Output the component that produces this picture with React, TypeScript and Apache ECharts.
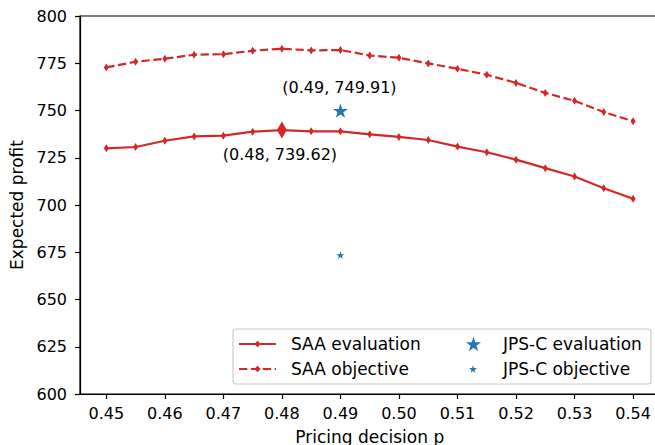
import React, { useEffect, useRef } from "react";
import * as echarts from "echarts";

// Pricing decisions evaluated by the SAA approach
const prices = [
  0.45, 0.455, 0.46, 0.465, 0.47, 0.475, 0.48, 0.485, 0.49, 0.495, 0.5,
  0.505, 0.51, 0.515, 0.52, 0.525, 0.53, 0.535, 0.54,
];
// Out-of-sample expected profit of each SAA pricing decision
const saaEvaluation = [
  730.0, 730.7, 734.0, 736.3, 736.7, 738.8, 739.62, 739.0, 739.0, 737.4,
  736.0, 734.4, 730.9, 727.9, 724.0, 719.5, 715.1, 708.9, 703.3,
];
// In-sample SAA objective value of each pricing decision
const saaObjective = [
  772.8, 775.8, 777.4, 779.5, 779.8, 781.6, 782.7, 781.8, 782.0, 779.1,
  777.9, 774.9, 772.1, 768.9, 764.6, 759.3, 755.1, 749.2, 744.3,
];
// JPS-C solution
const jpsPrice = [0.49];
const jpsEvaluation = [749.91];
const jpsObjective = [673.5];

const xTicks = [0.45, 0.46, 0.47, 0.48, 0.49, 0.5, 0.51, 0.52, 0.53, 0.54];
const yTicks = [600, 625, 650, 675, 700, 725, 750, 775, 800];

const RED = "#d62728";
const BLUE = "#1f77b4";
const FONT = "DejaVu Sans";

// Five-pointed star symbol, point up
function starSymbol(inner = 0.381966): string {
  const pts: string[] = [];
  for (let i = 0; i < 10; i++) {
    const r = i % 2 === 0 ? 1 : inner;
    const a = -Math.PI / 2 + (i * Math.PI) / 5;
    pts.push(`${(r * Math.cos(a)).toFixed(4)},${(r * Math.sin(a)).toFixed(4)}`);
  }
  return "path://M" + pts.join("L") + "Z";
}

const pointLabel = (p: number, v: number) => `(${p.toFixed(2)}, ${v.toFixed(2)})`;

export default function App() {
  const ref = useRef<HTMLDivElement>(null);

  useEffect(() => {
    if (!ref.current) return;
    const chart = echarts.init(ref.current, undefined, { renderer: "svg" });

    const star = starSymbol();
    let best = 0;
    saaEvaluation.forEach((v, i) => {
      if (v > saaEvaluation[best]) best = i;
    });

    const legendText = {
      fontSize: 17,
      color: "#000",
      fontFamily: FONT,
      lineHeight: 18,
    };

    const baseLegend = { padding: 0, selectedMode: false, z: 4 };

    chart.setOption({
      animation: false,
      textStyle: { fontFamily: FONT },
      grid: {
        left: 80,
        top: 16,
        width: 579.4,
        height: 378,
        outerBoundsMode: "none",
        containLabel: false,
        show: true,
        borderColor: "#000",
        borderWidth: 1.2,
        backgroundColor: "transparent",
      },
      xAxis: {
        type: "value",
        min: 0.4455,
        max: 0.5445,
        name: "Pricing decision p",
        nameLocation: "middle",
        nameGap: 34,
        nameTextStyle: { fontSize: 17, color: "#000", fontFamily: FONT },
        axisLine: { show: true, onZero: false, lineStyle: { color: "#000", width: 1.2 } },
        axisTick: {
          show: true,
          customValues: xTicks,
          length: 5,
          lineStyle: { color: "#000", width: 1.2 },
        },
        axisLabel: {
          customValues: xTicks,
          formatter: (v: number) => v.toFixed(2),
          fontSize: 16,
          color: "#000",
          margin: 11,
          fontFamily: FONT,
        },
        splitLine: { show: false },
      },
      yAxis: {
        type: "value",
        min: yTicks[0],
        max: yTicks[yTicks.length - 1],
        interval: yTicks[1] - yTicks[0],
        name: "Expected profit",
        nameLocation: "middle",
        nameGap: 53,
        nameTextStyle: { fontSize: 17, color: "#000", fontFamily: FONT },
        axisLine: { show: true, onZero: false, lineStyle: { color: "#000", width: 1.2 } },
        axisTick: { show: true, length: 5, lineStyle: { color: "#000", width: 1.2 } },
        axisLabel: { fontSize: 16, color: "#000", margin: 13, fontFamily: FONT },
        splitLine: { show: false },
      },
      legend: [
        {
          ...baseLegend,
          data: ["SAA evaluation"],
          left: 238,
          top: 335,
          itemWidth: 37,
          itemHeight: 8,
          textStyle: { ...legendText, padding: [0, 0, 0, 10] },
        },
        {
          ...baseLegend,
          data: ["SAA objective"],
          left: 238,
          top: 360,
          itemWidth: 37,
          itemHeight: 8,
          textStyle: { ...legendText, padding: [0, 0, 0, 10] },
        },
        {
          ...baseLegend,
          data: [{ name: "JPS-C evaluation", icon: star }],
          left: 466,
          top: 335,
          itemWidth: 15,
          itemHeight: 15,
          textStyle: { ...legendText, padding: [0, 0, 0, 17] },
        },
        {
          ...baseLegend,
          data: [{ name: "JPS-C objective", icon: star }],
          left: 469,
          top: 360,
          itemWidth: 8,
          itemHeight: 8,
          textStyle: { ...legendText, padding: [0, 0, 0, 21] },
        },
      ],
      graphic: [
        {
          type: "rect",
          z: 3,
          shape: { x: 233, y: 329, width: 418, height: 55, r: 3 },
          style: { fill: "rgba(255,255,255,0.8)", stroke: "#cccccc", lineWidth: 1.2 },
        },
      ],
      series: [
        {
          name: "SAA evaluation",
          type: "line",
          data: prices.map((p, i) => [p, saaEvaluation[i]]),
          symbol: "diamond",
          symbolSize: [5, 8],
          showAllSymbol: true,
          lineStyle: { color: RED, width: 2.2 },
          itemStyle: { color: RED },
          emphasis: { disabled: true },
          z: 2,
        },
        {
          name: "SAA objective",
          type: "line",
          data: prices.map((p, i) => [p, saaObjective[i]]),
          symbol: "diamond",
          symbolSize: [5, 8],
          showAllSymbol: true,
          lineStyle: { color: RED, width: 2.2, type: [8.3, 3.6] },
          itemStyle: { color: RED },
          emphasis: { disabled: true },
          z: 2,
        },
        {
          name: "SAA best",
          type: "scatter",
          data: [[prices[best], saaEvaluation[best]]],
          symbol: "diamond",
          symbolSize: [10, 17],
          itemStyle: { color: RED, opacity: 1 },
          label: {
            show: true,
            position: "bottom",
            distance: 8,
            offset: [-2, 0],
            formatter: (d: any) => pointLabel(d.value[0], d.value[1]),
            fontSize: 16,
            color: "#000",
            fontFamily: FONT,
          },
          emphasis: { disabled: true },
          z: 3,
        },
        {
          name: "JPS-C evaluation",
          type: "scatter",
          data: jpsPrice.map((p, i) => [p, jpsEvaluation[i]]),
          symbol: star,
          symbolKeepAspect: true,
          symbolSize: 15,
          itemStyle: { color: BLUE, opacity: 1 },
          label: {
            show: true,
            position: "top",
            distance: 8,
            offset: [-1, 0],
            formatter: (d: any) => pointLabel(d.value[0], d.value[1]),
            fontSize: 16,
            color: "#000",
            fontFamily: FONT,
          },
          emphasis: { disabled: true },
          z: 3,
        },
        {
          name: "JPS-C objective",
          type: "scatter",
          data: jpsPrice.map((p, i) => [p, jpsObjective[i]]),
          symbol: star,
          symbolKeepAspect: true,
          symbolSize: 8,
          itemStyle: { color: BLUE, opacity: 1 },
          emphasis: { disabled: true },
          z: 3,
        },
      ],
    });

    return () => chart.dispose();
  }, []);

  return (
    <div
      ref={ref}
      style={{ position: "fixed", left: 0, top: 0, width: 655, height: 445, background: "#fff" }}
    />
  );
}
